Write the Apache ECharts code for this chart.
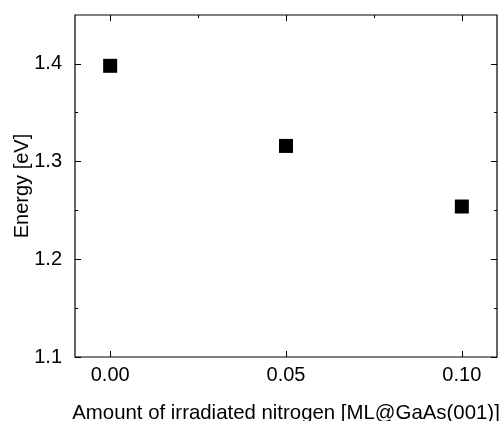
<!DOCTYPE html>
<html>
<head>
<meta charset="utf-8">
<script src="https://cdn.jsdelivr.net/npm/echarts@6/dist/echarts.min.js"></script>
<style>html,body{margin:0;padding:0;background:#fff;}#c{width:502px;height:421px;}</style>
</head>
<body>
<div id="c"></div>
<script>
var xValues = [0.00, 0.05, 0.10];
var energy = [1.398, 1.316, 1.254];
var xTicks = [0.00, 0.05, 0.10];
var xMinorTicks = [0.025, 0.075];
var yTicks = [1.1, 1.2, 1.3, 1.4];
var yMinorTicks = [1.15, 1.25, 1.35];

var FONT = 'Liberation Sans, Arial, sans-serif';
var points = xValues.map(function (x, i) { return [x, energy[i]]; });

function xAx(extra) {
  return Object.assign({
    type: 'value', min: -0.01, max: 0.11,
    splitLine: { show: false },
    axisLine: { show: false, onZero: false },
    axisLabel: { show: false },
    axisTick: { show: false }
  }, extra);
}
function yAx(extra) {
  return Object.assign({
    type: 'value', min: 1.1, max: 1.45,
    splitLine: { show: false },
    axisLine: { show: false, onZero: false },
    axisLabel: { show: false },
    axisTick: { show: false }
  }, extra);
}

var chart = echarts.init(document.getElementById('c'), null, { renderer: 'canvas' });
chart.setOption({
  animation: false,
  backgroundColor: '#fff',
  grid: { left: 75, right: 5, top: 15, bottom: 64, containLabel: false, outerBoundsMode: 'none',
    show: true, borderColor: '#000', borderWidth: 1.2, backgroundColor: 'transparent' },
  xAxis: [
    xAx({
      position: 'bottom',
      name: 'Amount of irradiated nitrogen [ML@GaAs(001)]',
      nameLocation: 'middle', nameGap: 46.5, nameMoveOverlap: false,
      nameTextStyle: { fontFamily: FONT, fontSize: 20.4, color: '#000' },
      axisTick: { show: true, inside: true, length: 6, customValues: xTicks, lineStyle: { color: '#000', width: 1 } },
      axisLabel: { show: true, margin: 8, customValues: xTicks, fontFamily: FONT, fontSize: 20, color: '#000',
        formatter: function (v) { return Number(v).toFixed(2); } }
    }),
    xAx({
      position: 'top',
      axisTick: { show: true, inside: true, length: 6, customValues: xTicks, lineStyle: { color: '#000', width: 1 } }
    }),
    xAx({
      position: 'top',
      axisTick: { show: true, inside: true, length: 3, customValues: xMinorTicks, lineStyle: { color: '#000', width: 1 } }
    })
  ],
  yAxis: [
    yAx({
      position: 'left',
      name: 'Energy [eV]',
      nameLocation: 'middle', nameGap: 43, nameRotate: 90, nameMoveOverlap: false,
      nameTextStyle: { fontFamily: FONT, fontSize: 20, color: '#000' },
      axisTick: { show: true, inside: true, length: 6, customValues: yTicks, lineStyle: { color: '#000', width: 1 } },
      axisLabel: { show: true, margin: 13, customValues: yTicks, fontFamily: FONT, fontSize: 20, color: '#000',
        formatter: function (v) { return Number(v).toFixed(1); } }
    }),
    yAx({
      position: 'left',
      axisTick: { show: true, inside: true, length: 3, customValues: yMinorTicks, lineStyle: { color: '#000', width: 1 } }
    }),
    yAx({
      position: 'right',
      axisTick: { show: true, inside: true, length: 6, customValues: yTicks, lineStyle: { color: '#000', width: 1 } }
    }),
    yAx({
      position: 'right',
      axisTick: { show: true, inside: true, length: 3, customValues: yMinorTicks, lineStyle: { color: '#000', width: 1 } }
    })
  ],
  series: [{
    type: 'scatter',
    xAxisIndex: 0, yAxisIndex: 0,
    symbol: 'rect', symbolSize: 14,
    itemStyle: { color: '#000', opacity: 1 },
    data: points
  }]
});
</script>
</body>
</html>
